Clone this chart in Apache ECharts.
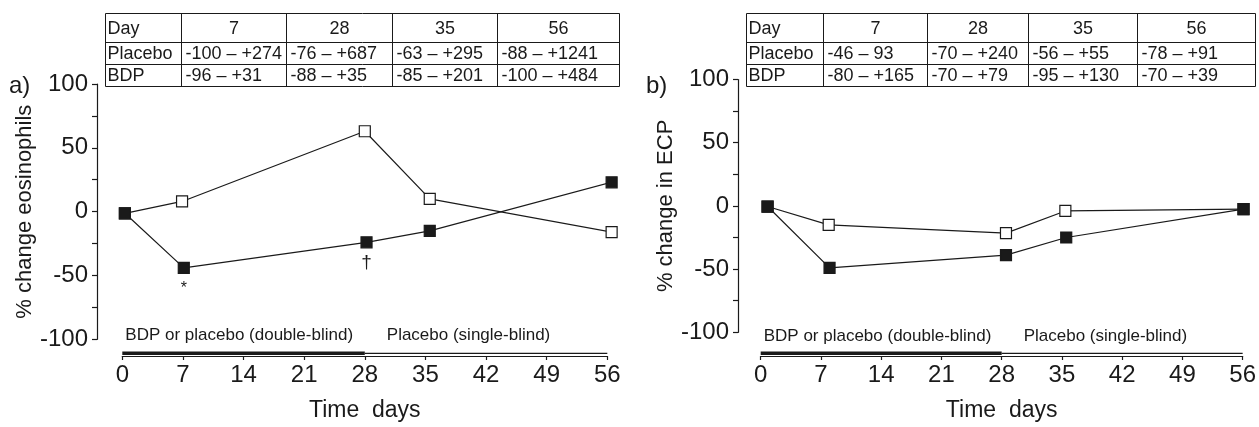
<!DOCTYPE html>
<html><head><meta charset="utf-8">
<script src="https://cdn.jsdelivr.net/npm/echarts@6/dist/echarts.min.js"></script>
<style>html,body{margin:0;padding:0;background:#fff}#c{width:1259px;height:427px}</style>
</head><body><div id="c"></div>
<script>
// ---- data ----
const xTicks = [0, 7, 14, 21, 28, 35, 42, 49, 56];
const yTicks = [-100, -50, 0, 50, 100];

// panel a: % change eosinophils
const eosPlaceboDays = [0.3, 6.9, 28, 35.5, 56.5];
const eosPlaceboVals = [-1.3, 8, 63, 10, -16];
const eosBdpDays = [0.3, 7.1, 28.2, 35.5, 56.5];
const eosBdpVals = [-1.3, -44, -24, -15, 23];
const eosBdpMarks = ['', '*', '†', '', ''];

// panel b: % change in ECP
const ecpPlaceboDays = [0.8, 7.9, 28.5, 35.4, 56.1];
const ecpPlaceboVals = [-0.5, -15, -21.5, -4, -2.6];
const ecpBdpDays = [0.8, 8, 28.5, 35.5, 56.1];
const ecpBdpVals = [-0.5, -49, -39, -25, -2.6];

// tables
const tableHeader = ['Day', '7', '28', '35', '56'];
const tableA = [
  ['Placebo', '-100 – +274', '-76 – +687', '-63 – +295', '-88 – +1241'],
  ['BDP', '-96 – +31', '-88 – +35', '-85 – +201', '-100 – +484']
];
const tableB = [
  ['Placebo', '-46 – 93', '-70 – +240', '-56 – +55', '-78 – +91'],
  ['BDP', '-80 – +165', '-70 – +79', '-95 – +130', '-70 – +39']
];
const periods = [
  {label: 'BDP or placebo (double-blind)', start: 0, end: 28},
  {label: 'Placebo (single-blind)', start: 28, end: 56}
];
const panelLabels = ['a)', 'b)'];
const yNames = ['% change eosinophils', '% change in ECP'];
const xName = 'Time  days';

// ---- chart ----
const FONT = '"Liberation Sans", Arial, sans-serif';
const INK = '#1a1a1a';
const chart = echarts.init(document.getElementById('c'), null, {renderer: 'canvas'});

const grids = [
  {left: 122.3, top: 84, width: 485, height: 262},
  {left: 760.7, top: 79.5, width: 485, height: 259.5}
];
const yOffsets = [25.3, 22.7];
const xOffsets = [16.7, 23.7];

function xAxisDef(i) {
  return {
    type: 'value', gridIndex: i, min: 0, max: 56, interval: 7, offset: xOffsets[i],
    axisLine: {show: true, onZero: false, lineStyle: {color: INK, width: 1.2}},
    axisTick: {show: true, inside: false, length: 4, lineStyle: {color: INK, width: 1.2}},
    axisLabel: {color: INK, fontFamily: FONT, fontSize: 24, margin: 7,
      formatter: v => xTicks.includes(v) ? String(v) : ''},
    splitLine: {show: false},
    name: xName, nameLocation: 'middle', nameGap: 43,
    nameTextStyle: {color: INK, fontFamily: FONT, fontSize: 23}
  };
}
function yAxisDef(i) {
  return {
    type: 'value', gridIndex: i, min: -100, max: 100, interval: 50, offset: yOffsets[i],
    axisLine: {show: true, onZero: false, lineStyle: {color: INK, width: 1.2}},
    axisTick: {show: true, inside: false, length: 5, lineStyle: {color: INK, width: 1.2}},
    minorTick: {show: true, splitNumber: 2, length: 5, lineStyle: {color: INK, width: 1.2}},
    axisLabel: {color: INK, fontFamily: FONT, fontSize: 24, margin: 9,
      formatter: v => yTicks.includes(v) ? String(v) : ''},
    splitLine: {show: false},
    name: yNames[i], nameLocation: 'middle', nameGap: 60,
    nameTextStyle: {color: INK, fontFamily: FONT, fontSize: 22}
  };
}
function zip(d, v, marks) {
  return d.map((x, k) => {
    const item = {value: [x, v[k]]};
    if (marks && marks[k]) {
      item.label = {show: true, formatter: marks[k], position: 'bottom',
        distance: marks[k] === '*' ? 7 : 5, color: INK, fontFamily: FONT,
        fontSize: marks[k] === '*' ? 16 : 19};
    }
    return item;
  });
}
function seriesDef(i, d, v, filled, marks) {
  return {
    type: 'line', xAxisIndex: i, yAxisIndex: i, data: zip(d, v, marks),
    symbol: 'rect', symbolSize: 11, clip: false, animation: false,
    lineStyle: {color: INK, width: 1.2},
    itemStyle: {color: filled ? INK : '#fff', borderColor: INK, borderWidth: 1.2, opacity: 1},
    z: filled ? 4 : 3
  };
}

const option = {
  backgroundColor: '#fff',
  animation: false,
  grid: grids,
  xAxis: [xAxisDef(0), xAxisDef(1)],
  yAxis: [yAxisDef(0), yAxisDef(1)],
  series: [
    seriesDef(0, eosPlaceboDays, eosPlaceboVals, false),
    seriesDef(0, eosBdpDays, eosBdpVals, true, eosBdpMarks),
    seriesDef(1, ecpPlaceboDays, ecpPlaceboVals, false),
    seriesDef(1, ecpBdpDays, ecpBdpVals, true)
  ]
};
chart.setOption(option);

// ---- annotations: tables, period bars, panel letters ----
const graphics = [];
function hline(x1, x2, y, w) {
  graphics.push({type: 'line', silent: true, shape: {x1, y1: y, x2, y2: y},
    style: {stroke: INK, lineWidth: w}});
}
function vline(x, y1, y2, w) {
  graphics.push({type: 'line', silent: true, shape: {x1: x, y1, x2: x, y2},
    style: {stroke: INK, lineWidth: w}});
}
function text(t, x, y, size, align) {
  graphics.push({type: 'text', silent: true,
    style: {text: t, x, y, fill: INK, fontFamily: FONT, fontSize: size,
      align: align || 'left', verticalAlign: 'middle'}});
}
const tableCols = [
  [105.5, 181.5, 286.5, 392.5, 497.5, 619.5],
  [746.5, 823.5, 927.5, 1028.5, 1137.5, 1255.5]
];
const tableRows = [13.5, 42.5, 64.5, 86.5];
[tableA, tableB].forEach((tbl, ti) => {
  const cols = tableCols[ti];
  tableRows.forEach(y => hline(cols[0], cols[cols.length - 1], y, 1));
  cols.forEach(x => vline(x, tableRows[0], tableRows[tableRows.length - 1], 1));
  tableHeader.forEach((h, c) => {
    const yc = (tableRows[0] + tableRows[1]) / 2 + 1;
    if (c === 0) text(h, cols[0] + 2, yc, 18, 'left');
    else text(h, (cols[c] + cols[c + 1]) / 2, yc, 18, 'center');
  });
  tbl.forEach((row, r) => {
    const yc = (tableRows[r + 1] + tableRows[r + 2]) / 2 + 1;
    row.forEach((cell, c) => {
      text(cell, cols[c] + (c === 0 ? 2 : 4), yc, 18, 'left');
    });
  });
});
const periodY = [353.3, 353.3];
const periodTextY = [335, 336.5];
[0, 1].forEach(i => {
  periods.forEach((p, k) => {
    const x1 = chart.convertToPixel({gridIndex: i}, [p.start, 0])[0];
    const x2 = chart.convertToPixel({gridIndex: i}, [p.end, 0])[0];
    hline(x1, x2, periodY[i], k === 0 ? 3.5 : 1.3);
    text(p.label, x1 + (k === 0 ? 3 : 22), periodTextY[i], 17, 'left');
  });
});
text(panelLabels[0], 9, 86, 24, 'left');
text(panelLabels[1], 646, 86, 24, 'left');

chart.setOption({graphic: graphics});
</script>
</body></html>
